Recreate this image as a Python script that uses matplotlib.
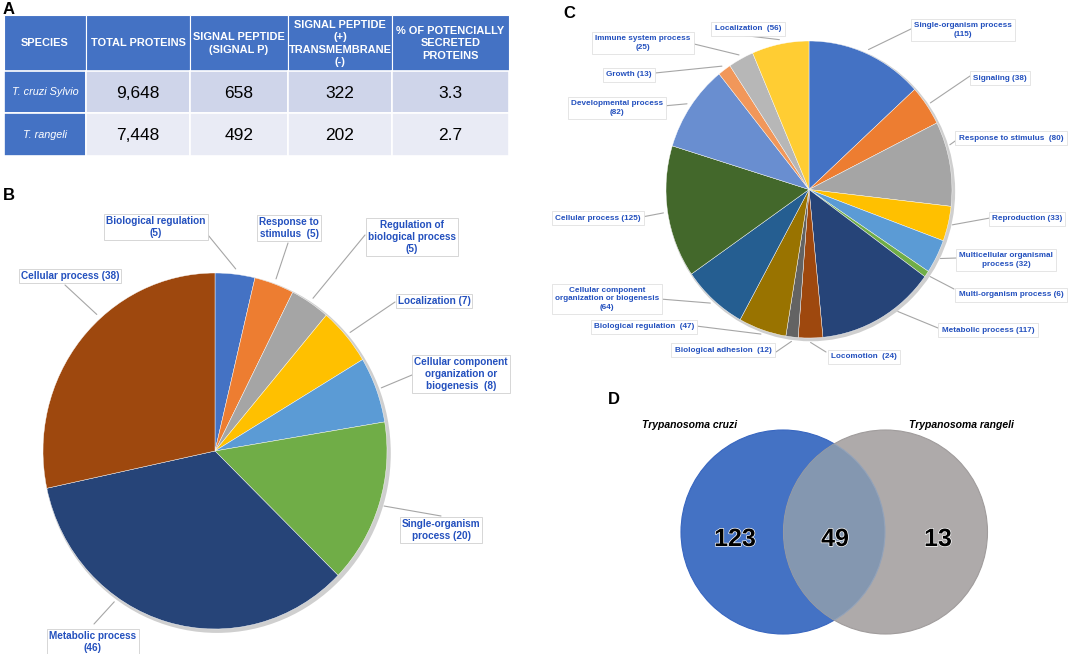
import numpy as np
import matplotlib
matplotlib.use('Agg')
import matplotlib.pyplot as plt
from matplotlib.patches import Rectangle, Circle, Ellipse
import matplotlib.patheffects as pe

plt.rcParams['font.family'] = ['Liberation Sans', 'DejaVu Sans']

# ---------------- Data ----------------
table_header = ['SPECIES', 'TOTAL PROTEINS', 'SIGNAL PEPTIDE\n(SIGNAL P)',
                'SIGNAL PEPTIDE\n(+)\nTRANSMEMBRANE\n(-)',
                '% OF POTENCIALLY\nSECRETED\nPROTEINS']
species = ['T. cruzi Sylvio', 'T. rangeli']
total_proteins = ['9,648', '7,448']
signal_peptide = ['658', '492']
sp_transmembrane = ['322', '202']
pct_secreted = ['3.3', '2.7']

b_labels = ['Biological regulation\n(5)', 'Response to\nstimulus  (5)',
            'Regulation of\nbiological process\n(5)', 'Localization (7)',
            'Cellular component\norganization or\nbiogenesis  (8)',
            'Single-organism\nprocess (20)', 'Metabolic process\n(46)',
            'Cellular process (38)']
b_values = [5, 5, 5, 7, 8, 20, 46, 38]
b_colors = ['#4472C4', '#ED7D31', '#A5A5A5', '#FFC000', '#5B9BD5',
            '#70AD47', '#264478', '#9E480E']

c_labels = ['Single-organism process\n(115)', 'Signaling (38)',
            'Response to stimulus  (80)', 'Reproduction (33)',
            'Multicellular organismal\nprocess (32)', 'Multi-organism process (6)',
            'Metabolic process (117)', 'Locomotion  (24)',
            'Biological adhesion  (12)', 'Biological regulation  (47)',
            'Cellular component\norganization or biogenesis\n(64)',
            'Cellular process (125)', 'Developmental process\n(82)',
            'Growth (13)', 'Immune system process\n(25)', 'Localization  (56)']
c_values = [115, 38, 80, 33, 32, 6, 117, 24, 12, 47, 64, 125, 82, 13, 25, 56]
c_colors = ['#4472C4', '#ED7D31', '#A5A5A5', '#FFC000', '#5B9BD5', '#70AD47',
            '#264478', '#9E480E', '#636363', '#997300', '#255E91', '#43682B',
            '#698ED0', '#F1975A', '#B7B7B7', '#FFCD33']

venn_sets = ['Trypanosoma cruzi', 'Trypanosoma rangeli']
venn_counts = [123, 49, 13]

# ---------------- Layout ----------------
W, H = 1084, 654
fig = plt.figure(figsize=(W / 100, H / 100), dpi=100)
fig.patch.set_facecolor('white')

ov = fig.add_axes([0, 0, 1, 1])
ov.set_xlim(0, W)
ov.set_ylim(H, 0)
ov.axis('off')
ov.set_zorder(5)

LBL = '#2350BE'

# panel letters
for letter, (x, y) in zip('ABCD', [(9, 9), (9, 195), (569, 13), (614, 400)]):
    ov.text(x, y, letter, fontsize=12, fontweight='bold', ha='center', va='center')

# ---------------- Table (A) ----------------
col_edges = [4, 86, 190, 288, 392, 509]
row_edges = [15, 71, 113, 156]
rows = list(zip(species, total_proteins, signal_peptide, sp_transmembrane, pct_secreted))
for j, htxt in enumerate(table_header):
    x0, x1 = col_edges[j], col_edges[j + 1]
    y0, y1 = row_edges[0], row_edges[1]
    ov.add_patch(Rectangle((x0, y0), x1 - x0, y1 - y0, fc='#4472C4', ec='white', lw=0.8))
    ov.text((x0 + x1) / 2, (y0 + y1) / 2 + 0.5, htxt, color='white', fontsize=7.9,
            fontweight='bold', ha='center', va='center', linespacing=1.28)
body_fc = ['#CFD5EA', '#E9EBF5']
for i, row in enumerate(rows):
    y0, y1 = row_edges[i + 1], row_edges[i + 2]
    for j, val in enumerate(row):
        x0, x1 = col_edges[j], col_edges[j + 1]
        fc = '#4472C4' if j == 0 else body_fc[i]
        ov.add_patch(Rectangle((x0, y0), x1 - x0, y1 - y0, fc=fc, ec='white', lw=1.2))
        if j == 0:
            ov.text((x0 + x1) / 2, (y0 + y1) / 2, val, color='white', fontsize=7.8,
                    fontstyle='italic', ha='center', va='center')
        else:
            ov.text((x0 + x1) / 2, (y0 + y1) / 2 + 1, val, color='black', fontsize=12.5,
                    ha='center', va='center')


# ---------------- Pies ----------------
def make_pie(cx, cy, rx, ry, values, colors):
    pax = fig.add_axes([(cx - rx) / W, 1 - (cy + ry) / H, 2 * rx / W, 2 * ry / H])
    pax.add_patch(Ellipse((0.012, -0.012), 2.02, 2.02, fc='#CFCFCF', ec='none',
                          zorder=0, clip_on=False))
    pax.pie(values, colors=colors, startangle=90, counterclock=False, radius=1,
            wedgeprops=dict(linewidth=0.3, edgecolor='white'))
    pax.set_aspect('auto')
    pax.set_xlim(-1, 1)
    pax.set_ylim(-1, 1)
    pax.axis('off')
    return pax


def wedge_angles(values, fracs):
    v = np.asarray(values, float)
    cum = np.concatenate([[0], np.cumsum(v)]) / v.sum()
    start = 90 - 360 * cum[:-1]
    end = 90 - 360 * cum[1:]
    return np.radians(start + np.asarray(fracs) * (end - start))


def label_pie(pax, labels, values, fracs, text_pos, line_start, fs, ls, ec, pad, k=1.03):
    ang = wedge_angles(values, fracs)
    for lab, a, (tx, ty), (sx, sy) in zip(labels, ang, text_pos, line_start):
        ov.annotate('', xy=(k * np.cos(a), k * np.sin(a)), xycoords=pax.transData,
                    xytext=(sx, sy), textcoords='data',
                    arrowprops=dict(arrowstyle='-', color='#A6A6A6', lw=0.8,
                                    shrinkA=0, shrinkB=0),
                    annotation_clip=False)
        ov.text(tx, ty, lab, fontsize=fs, fontweight='bold', color=LBL,
                ha='center', va='center', linespacing=ls,
                bbox=dict(boxstyle='square,pad=%g' % pad, fc='white', ec=ec, lw=0.6))


# Panel B
pax_b = make_pie(215, 451, 172, 178, b_values, b_colors)
b_fracs = [0.5, 0.5, 0.5, 0.5, 0.5, 0.5, 0.65, 0.59]
b_text = [(156, 227), (289, 228), (412, 237), (434, 301), (461, 374),
          (441, 530), (93, 642), (70, 276)]
b_start = [(208, 235), (288, 243), (365, 235), (395, 302), (412, 375),
           (441, 516), (94, 624), (65, 285)]
label_pie(pax_b, b_labels, b_values, b_fracs, b_text, b_start, 7.2, 1.2, '#D0D0D0', 0.2)

# Panel C
pax_c = make_pie(809, 189.5, 143, 148.5, c_values, c_colors)
c_fracs = [0.5, 0.5, 0.29, 0.5, 0.5, 0.5, 0.35, 0.5, 0.5, 0.5, 0.5, 0.5, 0.5, 0.5, 0.5, 0.5]
c_text = [(963, 30), (1000, 78), (1011, 138), (1027, 219), (1006, 260), (1011, 295),
          (988, 330), (864, 357), (723, 350), (644, 327), (607, 299), (598, 218),
          (617, 108), (629, 75), (643, 43), (748, 29)]
c_start = [(913, 28), (970, 76), (958, 139), (990, 218), (957, 258), (954, 289),
           (938, 328), (826, 352), (776, 352), (696, 326), (660, 299), (642, 217),
           (663, 106), (655, 73), (690, 43), (732, 34)]
label_pie(pax_c, c_labels, c_values, c_fracs, c_text, c_start, 5.9, 1.3, '#E0E0E0', 0.4)

# ---------------- Venn (D) ----------------
r = 102
left = Circle((783, 532), r, fc='#4472C4', ec='#3866C0', lw=0.8, zorder=1)
right = Circle((885.5, 532), r, fc='#AEAAAA', ec='#A09C9C', lw=0.8, zorder=2)
ov.add_patch(left)
ov.add_patch(right)
lens = Circle((783, 532), r, fc='#8497B0', ec='#93A3BA', lw=0.8, zorder=3)
ov.add_patch(lens)
lens.set_clip_path(right)

for name, x in zip(venn_sets, [690, 961]):
    ov.text(x, 425, name, fontsize=7.5, fontweight='bold', fontstyle='italic',
            ha='center', va='center')
for cnt, x in zip(venn_counts, [735, 835, 938]):
    ov.text(x, 539, str(cnt), fontsize=18, fontweight='bold', ha='center', va='center',
            zorder=4, path_effects=[pe.withStroke(linewidth=1.0, foreground='white')])

fig.savefig('out.png', dpi=100, facecolor='white')
